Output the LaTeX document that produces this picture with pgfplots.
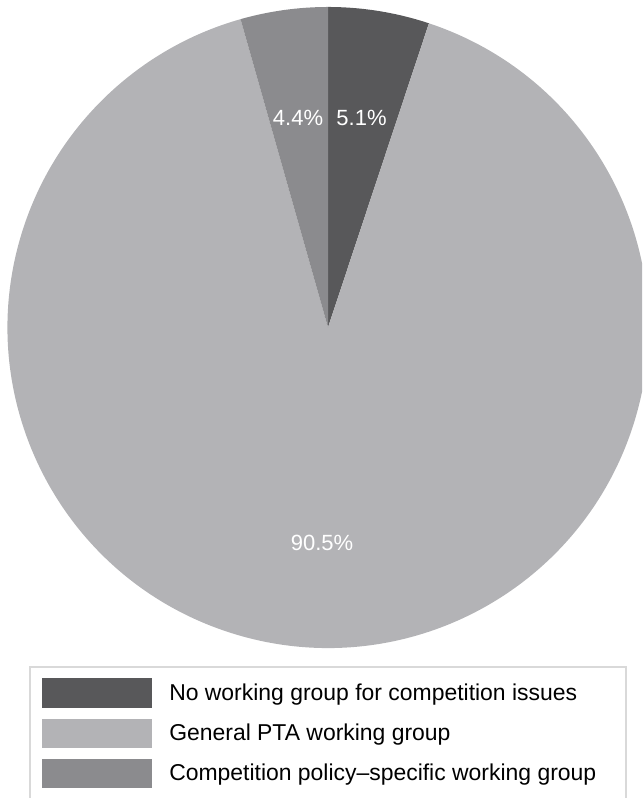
\documentclass[border=0pt]{standalone}
\usepackage{pgfplots}
\pgfplotsset{compat=1.18}
\usepackage{fontspec}
\setmainfont{Liberation Sans}
\definecolor{sdark}{RGB}{88,88,90}
\definecolor{slight}{RGB}{179,179,182}
\definecolor{smid}{RGB}{139,139,142}
\definecolor{lborder}{RGB}{217,217,217}
\tikzset{big/.style={font=\fontsize{16.5}{19}\selectfont},
         leg/.style={font=\fontsize{17.2}{20}\selectfont}}
\begin{document}
\begin{tikzpicture}[x=0.75pt,y=0.75pt]
\useasboundingbox (0,0) rectangle (642,798);
\clip (0,0) rectangle (642,798);
\begin{axis}[
  at={(0,0)}, anchor=south west,
  scale only axis, width=481.5pt, height=598.5pt,
  xmin=0, xmax=642, ymin=0, ymax=798,
  hide axis, clip=false,
]
% shares in percent: 5.1 (none), 90.5 (general), 4.4 (specific)
\fill[sdark]  (axis cs:328,470.5) -- ++(90:240.375pt)
   arc[start angle=90, delta angle=-3.6*5.1, radius=240.375pt] -- cycle;
\fill[slight] (axis cs:328,470.5) -- ++(90-3.6*5.1:240.375pt)
   arc[start angle=90-3.6*5.1, delta angle=-3.6*90.5, radius=240.375pt] -- cycle;
\fill[smid]   (axis cs:328,470.5) -- ++(90+3.6*4.4:240.375pt)
   arc[start angle=90+3.6*4.4, delta angle=-3.6*4.4, radius=240.375pt] -- cycle;
\node[big, white] at (axis cs:361.5,680) {5.1\%};
\node[big, white] at (axis cs:298,680) {4.4\%};
\node[big, white] at (axis cs:322,255.5) {90.5\%};
% legend
\draw[lborder, line width=1.5pt] (axis cs:30,-10) -- (axis cs:30,131) -- (axis cs:626,131) -- (axis cs:626,-10);
\fill[sdark]  (axis cs:42,90) rectangle (axis cs:152,120);
\fill[slight] (axis cs:42,50) rectangle (axis cs:152,79);
\fill[smid]   (axis cs:42,10) rectangle (axis cs:152,39);
\node[leg, anchor=base west, inner sep=0pt] at (axis cs:169,97.5) {No working group for competition issues};
\node[leg, anchor=base west, inner sep=0pt] at (axis cs:169,57) {General PTA working group};
\node[leg, anchor=base west, inner sep=0pt] at (axis cs:169,17) {Competition policy\textendash specific working group};
\end{axis}
\end{tikzpicture}
\end{document}
